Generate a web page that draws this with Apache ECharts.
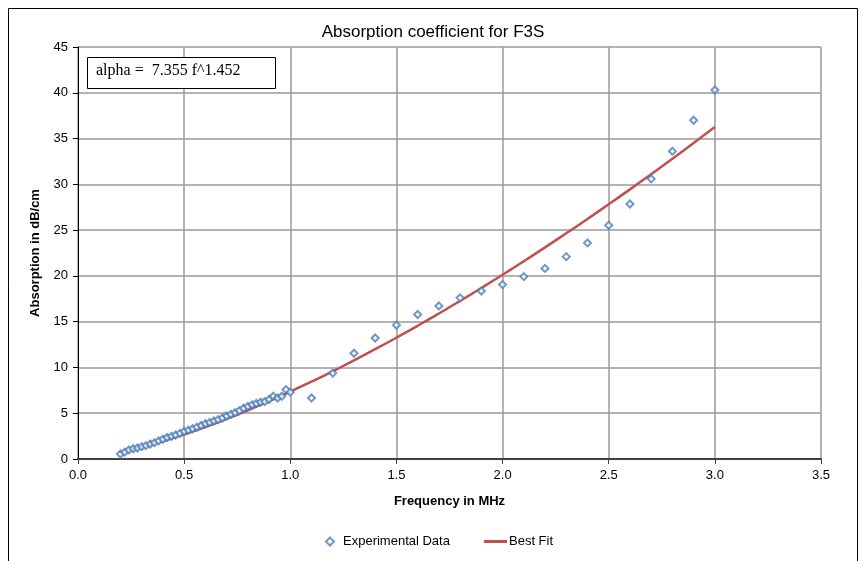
<!DOCTYPE html>
<html>
<head>
<meta charset="utf-8">
<script src="https://cdn.jsdelivr.net/npm/echarts@6/dist/echarts.min.js"></script>
<style>
  html, body { margin: 0; padding: 0; background: #fff; }
  #chart { width: 866px; height: 561px; }
</style>
</head>
<body>
<div id="chart"></div>
<script>
// frequencies (MHz) of measured points
const expFreq = [
  0.20, 0.22, 0.24, 0.26, 0.28, 0.30, 0.32, 0.34, 0.36, 0.38,
  0.40, 0.42, 0.44, 0.46, 0.48, 0.50, 0.52, 0.54, 0.56, 0.58,
  0.60, 0.62, 0.64, 0.66, 0.68, 0.70, 0.72, 0.74, 0.76, 0.78,
  0.80, 0.82, 0.84, 0.86, 0.88, 0.90, 0.92, 0.94, 0.96, 0.98,
  1.00, 1.1, 1.2, 1.3, 1.4, 1.5, 1.6, 1.7, 1.8, 1.9,
  2.0, 2.1, 2.2, 2.3, 2.4, 2.5, 2.6, 2.7, 2.8, 2.9, 3.0
]
// measured absorption (dB/cm)
const expValues = [
  0.55, 0.75, 1.0, 1.12, 1.2, 1.35, 1.46, 1.63, 1.78, 1.98,
  2.16, 2.35, 2.48, 2.62, 2.8, 3.0, 3.15, 3.3, 3.48, 3.66,
  3.85, 4.0, 4.15, 4.3, 4.48, 4.7, 4.88, 5.06, 5.27, 5.55,
  5.74, 5.92, 6.07, 6.2, 6.27, 6.5, 6.86, 6.66, 6.85, 7.58,
  7.3, 6.66, 9.38, 11.55, 13.22, 14.62, 15.78, 16.72, 17.6, 18.35,
  19.05, 19.92, 20.82, 22.1, 23.6, 25.52, 27.85, 30.6, 33.62, 37.0, 40.3
]
// best fit curve, read at 0.1 MHz steps
const fitFreq = [
  0.2, 0.3, 0.4, 0.5, 0.6, 0.7, 0.8, 0.9, 1.0, 1.1,
  1.2, 1.3, 1.4, 1.5, 1.6, 1.7, 1.8, 1.9, 2.0, 2.1,
  2.2, 2.3, 2.4, 2.5, 2.6, 2.7, 2.8, 2.9, 3.0
]
const fitValues = [
  0.71, 1.28, 1.94, 2.69, 3.50, 4.38, 5.32, 6.31, 7.36, 8.45,
  9.58, 10.77, 11.99, 13.25, 14.55, 15.89, 17.27, 18.68, 20.12, 21.60,
  23.11, 24.65, 26.22, 27.82, 29.45, 31.11, 32.80, 34.51, 36.25
]

const chart = echarts.init(document.getElementById('chart'))
const font = 'Liberation Sans'
const legendText = { fontFamily: font, fontSize: 13, color: '#000' }

const option = {
  animation: false,
  backgroundColor: '#fff',
  title: {
    text: 'Absorption coefficient for F3S',
    left: 'center',
    top: 19,
    textStyle: { fontFamily: font, fontSize: 17, fontWeight: 'normal', color: '#000' }
  },
  grid: { left: 78, right: 45, top: 47, bottom: 102 },
  // two legends so each icon keeps its own size
  legend: [
    {
      left: 325, top: 535, padding: 0,
      itemWidth: 8, itemHeight: 8,
      textStyle: Object.assign({ padding: [0, 0, 0, 4] }, legendText),
      data: [{ name: 'Experimental Data', icon: 'emptyDiamond' }]
    },
    {
      left: 484, top: 535, padding: 0,
      itemWidth: 23, itemHeight: 3, itemGap: 0,
      textStyle: Object.assign({ padding: [0, 0, 0, -3] }, legendText),
      data: [{ name: 'Best Fit', icon: 'rect' }]
    }
  ],
  xAxis: {
    type: 'value',
    min: 0, max: 3.5, interval: 0.5,
    name: 'Frequency in MHz',
    nameLocation: 'middle',
    nameGap: 36,
    nameTextStyle: { fontFamily: font, fontSize: 13, fontWeight: 'bold', color: '#000' },
    axisLine: { show: true, lineStyle: { color: '#404040', width: 2 } },
    axisTick: { show: true, inside: false, length: 5, lineStyle: { color: '#404040' } },
    axisLabel: { fontFamily: font, fontSize: 13, color: '#000', margin: 10,
      formatter: v => v.toFixed(1) },
    splitLine: { show: true, lineStyle: { color: '#9a9a9a', width: 1.5 } }
  },
  yAxis: {
    type: 'value',
    min: 0, max: 45, interval: 5,
    name: 'Absorption in dB/cm',
    nameLocation: 'middle',
    nameGap: 36,
    nameTextStyle: { fontFamily: font, fontSize: 13, fontWeight: 'bold', color: '#000' },
    axisLine: { show: true, lineStyle: { color: '#000', width: 1 } },
    axisTick: { show: true, inside: false, length: 5, lineStyle: { color: '#000' } },
    axisLabel: { fontFamily: font, fontSize: 13, color: '#000', margin: 10 },
    splitLine: { show: true, lineStyle: { color: '#9a9a9a', width: 1.5 } }
  },
  series: [
    {
      name: 'Experimental Data',
      type: 'scatter',
      symbol: 'emptyDiamond',
      symbolSize: 7,
      itemStyle: { color: '#4a7ebb', borderWidth: 1 },
      data: expFreq.map((f, i) => [f, expValues[i]]),
      z: 3
    },
    {
      name: 'Best Fit',
      type: 'line',
      symbol: 'none',
      smooth: true,
      lineStyle: { color: '#c0504d', width: 2.5 },
      itemStyle: { color: '#c0504d' },
      data: fitFreq.map((f, i) => [f, fitValues[i]]),
      z: 2
    }
  ],
  graphic: [
    {
      type: 'rect',
      silent: true,
      shape: { x: 8.5, y: 8.5, width: 849, height: 600 },
      style: { fill: 'none', stroke: '#000', lineWidth: 1 }
    },
    {
      type: 'rect',
      z: 10,
      shape: { x: 87.5, y: 57.5, width: 188, height: 31 },
      style: { fill: '#fff', stroke: '#000', lineWidth: 1 }
    },
    {
      type: 'text',
      z: 11,
      left: 96,
      top: 63,
      style: {
        text: 'alpha =  7.355 f^1.452',
        font: '16px "Liberation Serif"',
        fill: '#000'
      }
    }
  ]
}

chart.setOption(option)
window.onresize = () => {
  chart.resize()
}
</script>
</body>
</html>
